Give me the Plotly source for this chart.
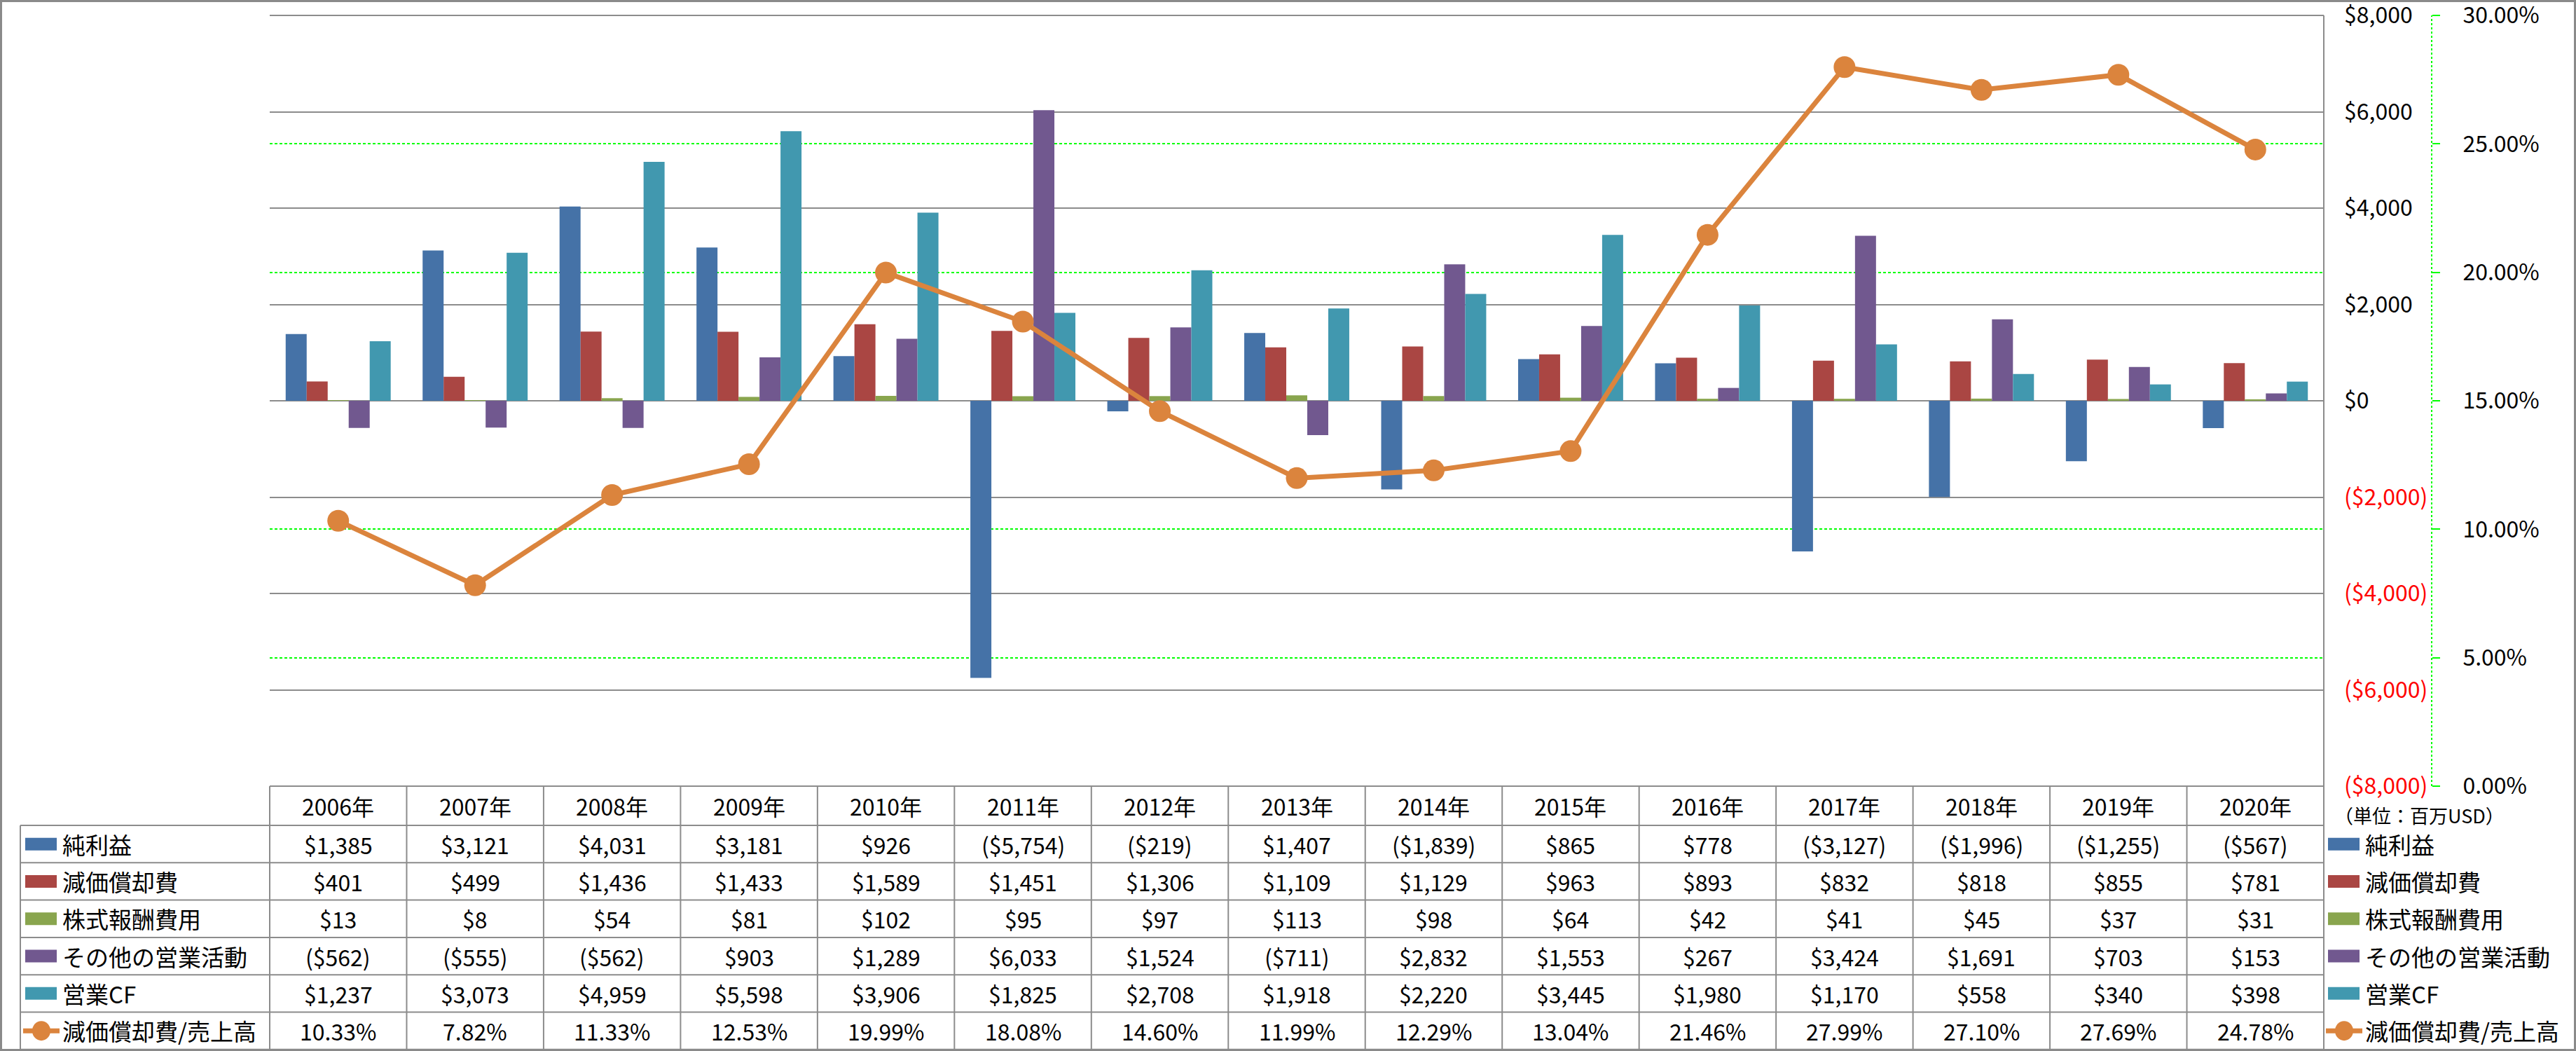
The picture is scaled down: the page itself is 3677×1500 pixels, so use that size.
import plotly.graph_objects as go

# data, millions of USD
years = ["2006年", "2007年", "2008年", "2009年", "2010年", "2011年", "2012年", "2013年",
         "2014年", "2015年", "2016年", "2017年", "2018年", "2019年", "2020年"]
net_income = [1385, 3121, 4031, 3181, 926, -5754, -219, 1407, -1839, 865, 778, -3127, -1996, -1255, -567]
depreciation = [401, 499, 1436, 1433, 1589, 1451, 1306, 1109, 1129, 963, 893, 832, 818, 855, 781]
stock_comp = [13, 8, 54, 81, 102, 95, 97, 113, 98, 64, 42, 41, 45, 37, 31]
other_ops = [-562, -555, -562, 903, 1289, 6033, 1524, -711, 2832, 1553, 267, 3424, 1691, 703, 153]
operating_cf = [1237, 3073, 4959, 5598, 3906, 1825, 2708, 1918, 2220, 3445, 1980, 1170, 558, 340, 398]
dep_ratio = [10.33, 7.82, 11.33, 12.53, 19.99, 18.08, 14.60, 11.99, 12.29, 13.04, 21.46, 27.99, 27.10, 27.69, 24.78]

bar_names = ["純利益", "減価償却費", "株式報酬費用", "その他の営業活動", "営業CF"]
bar_series = [net_income, depreciation, stock_comp, other_ops, operating_cf]
bar_colors = ["#4572A7", "#AA4643", "#89A54E", "#71588F", "#4198AF"]
line_name = "減価償却費/売上高"
line_color = "#DB843D"

usd_ticks = [-8000, -6000, -4000, -2000, 0, 2000, 4000, 6000, 8000]
pct_ticks = [0, 5, 10, 15, 20, 25, 30]

W, H = 3677, 1500
PLOT_L, PLOT_R, PLOT_T, PLOT_B = 385, 3317, 22, 1122
ROW_TOP, ROW_H = 1178, 53.3
GRID = "#8C8C8C"
GREEN = "#00FF00"
FONT = "Liberation Sans Narrow, Noto Sans CJK JP, sans-serif"


def px(x):
    return x / W


def py(y):
    return 1 - y / H


def usd(v):
    return f"${v:,}" if v >= 0 else f"(${-v:,})"


fig = go.Figure()

for name, vals, col in zip(bar_names, bar_series, bar_colors):
    fig.add_trace(go.Bar(x=years, y=vals, name=name, marker_color=col,
                         marker_line_width=0, showlegend=False))

fig.add_trace(go.Scatter(x=years, y=dep_ratio, name=line_name, yaxis="y2",
                         mode="lines+markers", line=dict(color=line_color, width=7),
                         marker=dict(color=line_color, size=31), showlegend=False))

ticktext = [usd(v) if v >= 0 else f"<span style='color:#FF0000'>{usd(v)}</span>" for v in usd_ticks]

fig.update_layout(
    width=W, height=H, autosize=False,
    margin=dict(l=0, r=0, t=0, b=0, pad=0, autoexpand=False),
    paper_bgcolor="white", plot_bgcolor="white",
    barmode="group", bargap=0.233, bargroupgap=0,
    font=dict(family=FONT, size=32, color="black"),
    xaxis=dict(domain=[px(PLOT_L), px(PLOT_R)], range=[-0.5, 14.5], showticklabels=False,
               showgrid=False, zeroline=False, showline=False, automargin=False),
    yaxis=dict(domain=[py(PLOT_B), py(PLOT_T)], range=[-8000, 8000], tickvals=usd_ticks,
               ticktext=ticktext, anchor="free", position=px(PLOT_R), side="right",
               ticks="", ticklabelstandoff=28, ticklabeloverflow="allow", automargin=False,
               showgrid=True, gridcolor=GRID, gridwidth=2,
               zeroline=True, zerolinecolor=GRID, zerolinewidth=2, showline=False,
               tickfont=dict(size=32)),
    yaxis2=dict(overlaying="y", range=[0, 30], tickvals=pct_ticks,
                ticktext=[f"{v:.2f}%" for v in pct_ticks],
                anchor="free", position=px(3471), side="right", ticks="outside", ticklen=11,
                tickcolor=GREEN, tickwidth=2, ticklabelstandoff=26, ticklabeloverflow="allow",
                automargin=False, showgrid=True, gridcolor=GREEN, griddash="4px,3px",
                gridwidth=1.5, zeroline=False, showline=False, tickfont=dict(size=32)),
)

shapes = []
line = dict(color=GRID, width=2)
# secondary axis dotted line
shapes.append(dict(type="line", xref="paper", yref="paper", x0=px(3471), x1=px(3471),
                   y0=py(PLOT_B), y1=py(PLOT_T), line=dict(color=GREEN, width=2, dash="dot")))

# data table grid
col_w = (PLOT_R - PLOT_L) / len(years)
row_edges = [ROW_TOP + ROW_H * i for i in range(7)]
# plot right edge, runs down through the table
shapes.append(dict(type="line", xref="paper", yref="paper", x0=px(PLOT_R), x1=px(PLOT_R),
                   y0=py(PLOT_T), y1=py(row_edges[-1]), line=line))
shapes.append(dict(type="line", xref="paper", yref="paper", x0=px(PLOT_L), x1=px(PLOT_R),
                   y0=py(PLOT_T), y1=py(PLOT_T), line=line))
shapes.append(dict(type="line", xref="paper", yref="paper", x0=px(PLOT_L), x1=px(PLOT_R),
                   y0=py(PLOT_B), y1=py(PLOT_B), line=line))
for ye in row_edges:
    shapes.append(dict(type="line", xref="paper", yref="paper", x0=px(29), x1=px(PLOT_R),
                       y0=py(ye), y1=py(ye), line=line))
shapes.append(dict(type="line", xref="paper", yref="paper", x0=px(29), x1=px(29),
                   y0=py(ROW_TOP), y1=py(row_edges[-1]), line=line))
for j in range(len(years)):
    xe = PLOT_L + col_w * j
    shapes.append(dict(type="line", xref="paper", yref="paper", x0=px(xe), x1=px(xe),
                       y0=py(PLOT_B), y1=py(row_edges[-1]), line=line))

# outer chart border
shapes.append(dict(type="rect", xref="paper", yref="paper", x0=px(1.5), x1=px(W - 1.5),
                   y0=py(H - 1.5), y1=py(1.5), line=dict(color="#8A8A8A", width=3)))

annotations = []
for j, yr in enumerate(years):
    annotations.append(dict(x=yr, xref="x", y=py((PLOT_B + ROW_TOP) / 2), yref="paper",
                            text=yr, showarrow=False, xanchor="center", yanchor="middle",
                            font=dict(size=32)))

rows = [[usd(v) for v in s] for s in bar_series] + [[f"{v:.2f}%" for v in dep_ratio]]
labels = bar_names + [line_name]
colors = bar_colors + [line_color]
for r, (lab, cells, col) in enumerate(zip(labels, rows, colors)):
    yc = ROW_TOP + ROW_H * (r + 0.5)
    for j, txt in enumerate(cells):
        annotations.append(dict(x=years[j], xref="x", y=py(yc), yref="paper", text=txt,
                                showarrow=False, xanchor="center", yanchor="middle",
                                font=dict(size=32)))
    for kx, tx in [(36, 87), (3323, 3374)]:
        annotations.append(dict(x=px(tx), xref="paper", y=py(yc), yref="paper", text=lab,
                                xanchor="left", yanchor="middle", showarrow=False,
                                font=dict(size=33)))
        if r < 5:
            shapes.append(dict(type="rect", xref="paper", yref="paper", x0=px(kx), x1=px(kx + 45),
                               y0=py(yc + 9), y1=py(yc - 9), fillcolor=col, line_width=0))
        else:
            cx = kx + 23
            shapes.append(dict(type="line", xref="paper", yref="paper", x0=px(kx - 3), x1=px(kx + 49),
                               y0=py(yc), y1=py(yc), line=dict(color=col, width=7)))
            shapes.append(dict(type="circle", xref="paper", yref="paper", x0=px(cx - 13), x1=px(cx + 13),
                               y0=py(yc + 14), y1=py(yc - 14), fillcolor=col, line_width=0))

annotations.append(dict(x=px(3330), xref="paper", y=py(1163), yref="paper", text="（単位：百万USD）",
                        xanchor="left", yanchor="middle", showarrow=False, font=dict(size=27)))

fig.update_layout(shapes=shapes, annotations=annotations)
# drop the browser's default 8px body margin so the figure fills the window exactly
fig.write_html("out.html", config={"displayModeBar": False},
               post_script="document.body.style.margin='0px';")
